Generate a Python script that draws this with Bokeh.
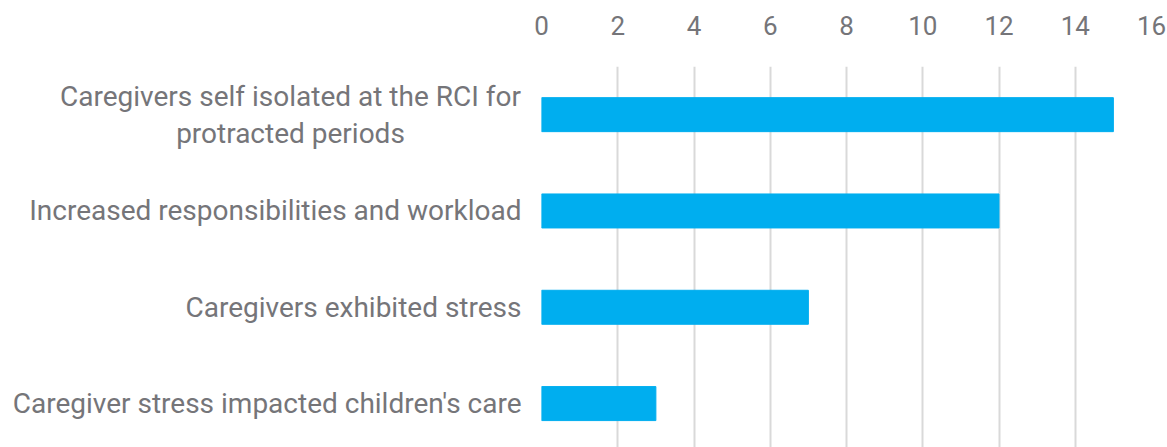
from bokeh.plotting import figure
from bokeh.models import Range1d, FixedTicker, ColumnDataSource
from bokeh.layouts import row
from bokeh.embed import file_html
from bokeh.resources import INLINE

categories = [
    "Caregivers self isolated at the RCI for\nprotracted periods",
    "Increased responsibilities and workload",
    "Caregivers exhibited stress",
    "Caregiver stress impacted children's care",
]
values = [15, 12, 7, 3]
x_ticks = [0, 2, 4, 6, 8, 10, 12, 14, 16]

n = len(categories)
ypos = [n - 1 - i for i in range(n)]

TEXT = "#757579"
FONT = "Roboto"
LABEL_SIZE = "28px"
TOP = 66
H = 447
LEFT_W = 531

y_range = Range1d(-0.456, n - 0.5)

# --- category label panel (multi-line label is centred, others right-aligned)
lab = figure(width=LEFT_W, height=H, output_backend="svg", toolbar_location=None,
             x_range=Range1d(0, LEFT_W), y_range=y_range,
             x_axis_type=None, y_axis_type=None,
             min_border_left=0, min_border_right=0, min_border_top=TOP,
             min_border_bottom=0)
lab.outline_line_color = None
lab.xgrid.visible = False
lab.ygrid.visible = False
src = ColumnDataSource(dict(
    y=ypos,
    text=categories,
    x=[290 if "\n" in c else 521 for c in categories],
    align=["center" if "\n" in c else "right" for c in categories],
))
lab.text(x="x", y="y", text="text", source=src, text_align="align",
         text_baseline="middle", text_font={"value": FONT},
         text_font_size=LABEL_SIZE, text_color=TEXT, text_line_height=1.12)

# --- bar chart
p = figure(width=1167 - LEFT_W, height=H, output_backend="svg", toolbar_location=None,
           x_range=Range1d(0, 16), y_range=y_range, y_axis_type=None,
           x_axis_location="above", min_border_left=10, min_border_right=16,
           min_border_top=TOP, min_border_bottom=0)
p.outline_line_color = None

p.hbar(y=ypos, right=values, left=0, height=0.353, color="#00AEEF")

p.xaxis.ticker = FixedTicker(ticks=x_ticks)
p.xaxis.axis_line_color = None
p.xaxis.major_tick_line_color = None
p.xaxis.minor_tick_line_color = None
p.xaxis.major_label_text_font = FONT
p.xaxis.major_label_text_font_size = "26px"
p.xaxis.major_label_text_color = TEXT
p.xaxis.major_label_standoff = 26

p.xgrid.ticker = FixedTicker(ticks=x_ticks)
p.xgrid.grid_line_color = "#D9D9D9"
p.xgrid.grid_line_width = 2
p.ygrid.grid_line_color = None

open("out.html", "w").write(file_html(row(lab, p, spacing=0), INLINE))
